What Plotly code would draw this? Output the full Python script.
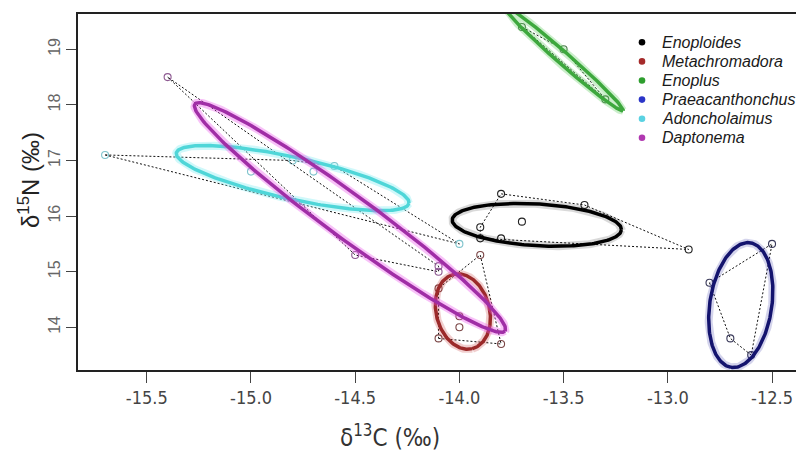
import numpy as np
import plotly.graph_objects as go

# ---------------- data ----------------
species = ["Enoploides", "Metachromadora", "Enoplus", "Praeacanthonchus", "Adoncholaimus", "Daptonema"]

enoploides_c = [-13.8, -13.4, -13.7, -13.9, -13.9, -13.8, -12.9]
enoploides_n = [16.4, 16.2, 15.9, 15.8, 15.6, 15.6, 15.4]

metachromadora_c = [-13.9, -14.1, -14.0, -14.0, -14.1, -13.8]
metachromadora_n = [15.3, 14.7, 14.2, 14.0, 13.8, 13.7]

enoplus_c = [-13.7, -13.5, -13.3]
enoplus_n = [19.4, 19.0, 18.1]

praeacanthonchus_c = [-12.5, -12.8, -12.7, -12.6]
praeacanthonchus_n = [15.5, 14.8, 13.8, 13.5]

adoncholaimus_c = [-15.7, -15.0, -14.8, -14.7, -14.6, -14.0]
adoncholaimus_n = [17.1, 16.8, 17.0, 16.8, 16.9, 15.5]

daptonema_c = [-15.4, -14.5, -14.1, -14.1]
daptonema_n = [18.5, 15.3, 15.1, 15.0]

# ellipse conjugate semi-axis vectors (d13C, d15N units)
ell_major = [(0.406, -0.090), (0.046, -0.667), (0.285, -0.935), (-0.046, -1.120), (0.558, -0.455), (0.744, -2.041)]
ell_minor = [(-0.006, -0.375), (-0.124, -0.120), (-0.019, -0.081), (-0.147, 0.085), (-0.022, -0.369), (-0.062, -0.319)]

x_ticks = [-15.5, -15.0, -14.5, -14.0, -13.5, -13.0, -12.5]
x_ticklabels = ["-15.5", "-15.0", "-14.5", "-14.0", "-13.5", "-13.0", "-12.5"]
y_ticks = [14, 15, 16, 17, 18, 19]
y_ticklabels = ["14", "15", "16", "17", "18", "19"]

# ---------------- styles ----------------
ell_colors = ["#000000", "#9B2A2A", "#3DA83D", "#14146E", "#4FD6D8", "#A02EA6"]
glow_colors = ["rgba(0,0,0,0.15)", "rgba(200,60,60,0.25)", "rgba(80,200,80,0.3)",
               "rgba(40,40,160,0.2)", "rgba(120,235,240,0.35)", "rgba(235,80,235,0.35)"]
pt_colors = ["#222222", "#7A4545", "#4E7A4E", "#3A3A5A", "#7EC3CC", "#8E5A92"]
legend_colors = ["#000000", "#A52A2A", "#2E9E2E", "#2B35C8", "#5AD2E2", "#B038B0"]

xs = [enoploides_c, metachromadora_c, enoplus_c, praeacanthonchus_c, adoncholaimus_c, daptonema_c]
ys = [enoploides_n, metachromadora_n, enoplus_n, praeacanthonchus_n, adoncholaimus_n, daptonema_n]


def hull(px, py):
    pts = sorted(set(zip(px, py)))
    if len(pts) < 3:
        return pts

    def cross(o, a, b):
        return (a[0] - o[0]) * (b[1] - o[1]) - (a[1] - o[1]) * (b[0] - o[0])

    lower, upper = [], []
    for p in pts:
        while len(lower) >= 2 and cross(lower[-2], lower[-1], p) <= 0:
            lower.pop()
        lower.append(p)
    for p in reversed(pts):
        while len(upper) >= 2 and cross(upper[-2], upper[-1], p) <= 0:
            upper.pop()
        upper.append(p)
    h = lower[:-1] + upper[:-1]
    return h + [h[0]]


fig = go.Figure()
t = np.linspace(0, 2 * np.pi, 240)

# hulls and points
for i, name in enumerate(species):
    h = hull(xs[i], ys[i])
    fig.add_trace(go.Scatter(x=[p[0] for p in h], y=[p[1] for p in h], mode="lines",
                             line=dict(color="#111111", width=1, dash="2px,2px"),
                             showlegend=False, hoverinfo="skip"))
    fig.add_trace(go.Scatter(x=xs[i], y=ys[i], mode="markers",
                             marker=dict(symbol="circle-open", size=7, color=pt_colors[i],
                                         line=dict(width=1.1, color=pt_colors[i])),
                             showlegend=False, name=name))

# ellipses
for i, name in enumerate(species):
    cx = float(np.mean(xs[i]))
    cy = float(np.mean(ys[i]))
    ux, uy = ell_major[i]
    vx, vy = ell_minor[i]
    ex = cx + ux * np.cos(t) + vx * np.sin(t)
    ey = cy + uy * np.cos(t) + vy * np.sin(t)
    fig.add_trace(go.Scatter(x=ex, y=ey, mode="lines", line=dict(color=glow_colors[i], width=8),
                             showlegend=False, hoverinfo="skip"))
    fig.add_trace(go.Scatter(x=ex, y=ey, mode="lines", line=dict(color=ell_colors[i], width=3.5),
                             showlegend=False, hoverinfo="skip"))

L, R, T, B = 78, 0, 14, 82
W, H = 796, 452
pw, ph = W - L - R, H - T - B


def px2paper_x(px):
    return (px - L) / pw


def px2paper_y(py):
    return (H - B - py) / ph


# manual legend (bullets + italic labels)
legend_shapes = []
legend_annots = []
for i, name in enumerate(species):
    yy = px2paper_y(42.3 + 19.1 * i)
    legend_shapes.append(dict(type="circle", xref="paper", yref="paper",
                              xsizemode="pixel", ysizemode="pixel",
                              xanchor=px2paper_x(642), yanchor=yy,
                              x0=-3.3, x1=3.3, y0=-3.3, y1=3.3,
                              fillcolor=legend_colors[i], line=dict(width=0)))
    legend_annots.append(dict(text="<i>" + name + "</i>", x=px2paper_x(660), y=yy,
                              xref="paper", yref="paper", showarrow=False,
                              xanchor="left", yanchor="middle",
                              font=dict(family="Liberation Sans, Arial, sans-serif", size=16, color="#1a1a1a")))

fig.update_layout(
    width=W, height=H,
    margin=dict(l=L, r=R, t=T, b=B),
    paper_bgcolor="white", plot_bgcolor="white",
    showlegend=False,
    font=dict(family="Liberation Sans, Arial, sans-serif", color="#333333"),
    xaxis=dict(range=[-15.83, -12.385], showgrid=False, zeroline=False,
               showline=True, linecolor="#222222", linewidth=1.5, mirror=True,
               ticks="outside", ticklen=11, tickcolor="#444444", tickwidth=1,
               tickvals=x_ticks, ticktext=x_ticklabels,
               tickfont=dict(family="Liberation Sans Narrow, DejaVu Sans Condensed, sans-serif",
                             size=18, color="#444444")),
    yaxis=dict(range=[13.232, 19.635], showgrid=False, zeroline=False,
               showline=True, linecolor="#222222", linewidth=1.5, mirror=False,
               ticks="outside", ticklen=10, tickcolor="#444444", tickwidth=1,
               tickvals=y_ticks, ticktext=y_ticklabels, tickangle=-90,
               tickfont=dict(family="Liberation Sans, Arial, sans-serif", size=16, color="#666666")),
    shapes=legend_shapes,
    annotations=legend_annots + [
        dict(text="δ<sup>13</sup>C (‰)", x=px2paper_x(390), y=px2paper_y(436), xref="paper", yref="paper",
             showarrow=False, xanchor="center", yanchor="middle",
             font=dict(family="Liberation Sans Narrow, DejaVu Sans Condensed, sans-serif", size=24, color="#333333")),
        dict(text="δ<sup>15</sup>N (‰)", x=px2paper_x(29), y=px2paper_y(180), xref="paper", yref="paper",
             showarrow=False, xanchor="center", yanchor="middle", textangle=-90,
             font=dict(family="Liberation Sans, Arial, sans-serif", size=24, color="#222222")),
    ],
)

fig.write_html("out.html")
